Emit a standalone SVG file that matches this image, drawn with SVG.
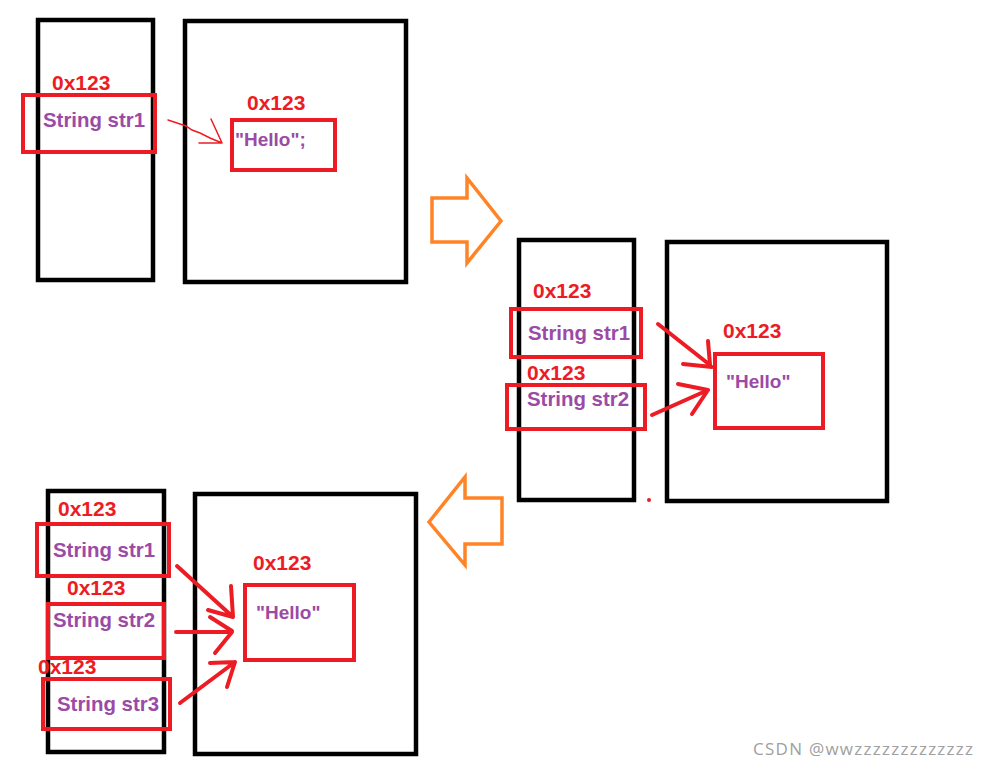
<svg xmlns="http://www.w3.org/2000/svg" width="988" height="767" viewBox="0 0 988 767">
<style>
.blk{fill:none;stroke:#000;stroke-width:4.5}
.red{fill:none;stroke:#ED1C24;stroke-width:4}
.addr{font-family:"Liberation Sans",Arial,sans-serif;font-weight:bold;font-size:21px;fill:#ED1C24}
.var{font-family:"Liberation Sans",Arial,sans-serif;font-weight:bold;font-size:20.4px;fill:#9B4AA6}
.hel{font-family:"Liberation Sans",Arial,sans-serif;font-weight:bold;font-size:19px;fill:#9B4AA6}
.orange{fill:none;stroke:#FF8427;stroke-width:3.5;stroke-linejoin:miter}
.arr{fill:none;stroke:#ED1C24;stroke-width:4;stroke-linecap:round}
.thin{fill:none;stroke:#ED1C24;stroke-width:1.5;stroke-linecap:round}
.wm{font-family:"Open Sans","Liberation Sans",sans-serif;font-size:17px;fill:#A0A0A0}
</style>
<rect width="988" height="767" fill="#fff"/>
<g id="panel1">
  <g id="stack1"><rect class="blk" x="38" y="20" width="115" height="260"/></g>
  <g id="heap1"><rect class="blk" x="185" y="21" width="221" height="261"/></g>
  <g id="p1-str1">
    <rect class="red" x="23" y="95" width="132" height="57"/>
    <text class="addr" x="52" y="90">0x123</text>
    <text class="var" x="43" y="127">String str1</text>
  </g>
  <g id="p1-hello">
    <rect class="red" x="232" y="120" width="103" height="50"/>
    <text class="addr" x="247" y="110">0x123</text>
    <text class="hel" x="235" y="146">"Hello";</text>
  </g>
</g>
<g id="orange-right"><polygon class="orange" points="432,198 467,198 467,178 501,221 467,263 467,242 432,242"/></g>
<g id="panel2">
  <g id="stack2"><rect class="blk" x="519" y="240" width="115" height="260"/></g>
  <g id="heap2"><rect class="blk" x="667" y="242" width="220" height="259"/></g>
  <g id="p2-str1">
    <rect class="red" x="511" y="309" width="130" height="48"/>
    <text class="addr" x="533" y="298">0x123</text>
    <text class="var" x="528" y="340">String str1</text>
  </g>
  <g id="p2-str2">
    <rect class="red" x="507" y="385" width="138" height="44"/>
    <text class="addr" x="527" y="380">0x123</text>
    <text class="var" x="527" y="406">String str2</text>
  </g>
  <g id="p2-hello">
    <rect class="red" x="715" y="354" width="108" height="74"/>
    <text class="addr" x="723" y="338">0x123</text>
    <text class="hel" x="726" y="388">"Hello"</text>
  </g>
  <circle cx="649" cy="500" r="2" fill="#ED1C24"/>
</g>
<g id="orange-left"><polygon class="orange" points="429,522 465,477 465,498 502,498 502,544 465,544 465,565"/></g>
<g id="panel3">
  <g id="stack3"><rect class="blk" x="48" y="491" width="116" height="261"/></g>
  <g id="heap3"><rect class="blk" x="195" y="494" width="221" height="260"/></g>
  <g id="p3-str1">
    <rect class="red" x="37" y="524" width="132" height="52"/>
    <text class="addr" x="58" y="516">0x123</text>
    <text class="var" x="53" y="557">String str1</text>
  </g>
  <g id="p3-str2">
    <rect class="red" x="48" y="604" width="116" height="54"/>
    <text class="addr" x="67" y="595">0x123</text>
    <text class="var" x="53" y="627">String str2</text>
  </g>
  <g id="p3-str3">
    <rect class="red" x="43" y="679" width="127" height="50"/>
    <text class="addr" x="38" y="674">0x123</text>
    <text class="var" x="57" y="711">String str3</text>
  </g>
  <g id="p3-hello">
    <rect class="red" x="245" y="585" width="109" height="75"/>
    <text class="addr" x="253" y="570">0x123</text>
    <text class="hel" x="256" y="619">"Hello"</text>
  </g>
</g>
<g id="connectors">
  <path class="thin" d="M168,120 L180,124 L186,126 L192,130 L200,133 L210,138 L222,143 M211,119 L222,143 M199,143 L222,143"/>
  <path class="arr" d="M658,324 L710,365 M708,341 L710,365 M683,364 L712,367"/>
  <path class="arr" d="M652,415 L708,390 M678,384 L708,390 M692,414 L708,390"/>
  <path class="arr" d="M177,566 L233,617 M231,586 L233,617 M208,610 L233,617"/>
  <path class="arr" d="M176,632 L232,632 M210,617 L232,631 M215,653 L232,632"/>
  <path class="arr" d="M180,703 L235,662 M210,663 L235,662 M227,687 L235,662"/>
</g>
<text class="wm" x="753" y="755" textLength="220" lengthAdjust="spacing">CSDN @wwzzzzzzzzzzzzz</text>
</svg>
